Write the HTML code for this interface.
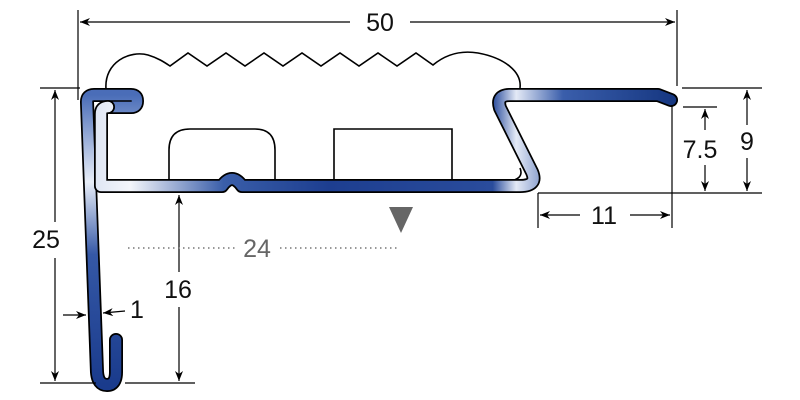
<!DOCTYPE html>
<html><head><meta charset="utf-8"><style>html,body{margin:0;padding:0;background:#fff}svg{display:block}</style></head>
<body>
<svg width="800" height="400" viewBox="0 0 800 400" xmlns="http://www.w3.org/2000/svg">
<defs>
<linearGradient id="g" gradientUnits="userSpaceOnUse" x1="95" y1="0" x2="680" y2="0">
<stop offset="0" stop-color="#dfe6f4"/>
<stop offset="0.06" stop-color="#f4f6fb"/>
<stop offset="0.22" stop-color="#3a5ea9"/>
<stop offset="0.4" stop-color="#1d3e90"/>
<stop offset="0.68" stop-color="#2a4c9c"/>
<stop offset="0.72" stop-color="#e4eaf6"/>
<stop offset="0.8" stop-color="#3a5eab"/>
<stop offset="1" stop-color="#14357f"/>
</linearGradient>
<linearGradient id="gv" gradientUnits="userSpaceOnUse" x1="0" y1="95" x2="0" y2="385">
<stop offset="0" stop-color="#4a6db8"/>
<stop offset="0.3" stop-color="#e8eef8"/>
<stop offset="0.55" stop-color="#3558a6"/>
<stop offset="1" stop-color="#1a3b8c"/>
</linearGradient>
<marker id="a" markerWidth="10" markerHeight="8" refX="10" refY="4" orient="auto" markerUnits="userSpaceOnUse"><path d="M0,0 L10,4 L0,8 L3,4z" fill="#000"/></marker>
</defs>
<g fill="none" stroke="#000" stroke-width="1.6">
<path d="M106,89 C104,62 130,50 148,55 C158,58 164,62 170,66 L188,53 L207,66 L226,53 L245,66 L264,53 L283,66 L302,53 L321,66 L340,53 L359,66 L378,53 L397,66 L416,53 L433,65 C445,55 460,50 478,53 C505,58 522,72 520,88"/>
<path d="M169,182 L169,150 Q169,129 190,129 L255,129 Q275,129 275,150 L275,182"/>
<path d="M334,182 L334,129 L452,129 L452,182"/>
<path d="M505,182 Q525,180 520,168"/>
</g>
<g fill="none" stroke-linejoin="round" stroke-linecap="round">
<path d="M116,340 L116,372 Q116,385 107,385 Q98,385 97,372 L87,102 Q87,95 94,95 L131,95 Q137,95 137,101 Q137,107 131,107 L108,107" stroke="#000" stroke-width="14"/>
<path d="M116,340 L116,372 Q116,385 107,385 Q98,385 97,372 L87,102 Q87,95 94,95 L131,95 Q137,95 137,101 Q137,107 131,107 L108,107" stroke="url(#gv)" stroke-width="10.5"/>
<path d="M108,107 Q101,107 101,114 L101,186 L222,186 Q232,172 242,186 L520,186 Q538,186 532,172 L500,108 Q496,95 510,95 L658,95 L671,100" stroke="#000" stroke-width="14"/>
<path d="M108,107 Q101,107 101,114 L101,186 L222,186 Q232,172 242,186 L520,186 Q538,186 532,172 L500,108 Q496,95 510,95 L658,95 L671,100" stroke="url(#g)" stroke-width="10.5"/>
</g>
<g stroke="#000" stroke-width="1.2" fill="none">
<line x1="78" y1="10" x2="78" y2="100"/>
<line x1="677" y1="10" x2="677" y2="86"/>
<line x1="350" y1="22" x2="80" y2="22" marker-end="url(#a)"/>
<line x1="410" y1="22" x2="675" y2="22" marker-end="url(#a)"/>
<line x1="40" y1="88" x2="80" y2="88"/>
<line x1="40" y1="383" x2="96" y2="383"/>
<line x1="125" y1="383" x2="195" y2="383"/>
<line x1="55" y1="222" x2="55" y2="90" marker-end="url(#a)"/>
<line x1="55" y1="258" x2="55" y2="381" marker-end="url(#a)"/>
<line x1="179" y1="272" x2="179" y2="195" marker-end="url(#a)"/>
<line x1="179" y1="307" x2="179" y2="381" marker-end="url(#a)"/>
<line x1="63" y1="315" x2="86" y2="315" marker-end="url(#a)"/>
<line x1="125" y1="311" x2="103" y2="313" marker-end="url(#a)"/>
<line x1="682" y1="88" x2="762" y2="88"/>
<line x1="538" y1="193" x2="762" y2="193"/>
<line x1="683" y1="107" x2="717" y2="107"/>
<line x1="672" y1="105" x2="672" y2="228"/>
<line x1="538" y1="193" x2="538" y2="228"/>
<line x1="705" y1="130" x2="705" y2="109" marker-end="url(#a)"/>
<line x1="705" y1="165" x2="705" y2="191" marker-end="url(#a)"/>
<line x1="747" y1="125" x2="747" y2="90" marker-end="url(#a)"/>
<line x1="747" y1="158" x2="747" y2="191" marker-end="url(#a)"/>
<line x1="580" y1="215" x2="540" y2="215" marker-end="url(#a)"/>
<line x1="630" y1="215" x2="670" y2="215" marker-end="url(#a)"/>
</g>
<g stroke="#777" stroke-width="1.6" stroke-dasharray="1.5 3.5">
<line x1="128" y1="248" x2="236" y2="248"/>
<line x1="280" y1="248" x2="400" y2="248"/>
</g>
<path d="M389,207 L413,207 L401,233z" fill="#666"/>
<g font-family="Liberation Sans Narrow, Liberation Sans, sans-serif" font-size="25" text-anchor="middle" fill="#111">
<text x="380" y="31">50</text>
<text x="46" y="248">25</text>
<text x="178" y="298">16</text>
<text x="137" y="318">1</text>
<text x="700" y="158">7.5</text>
<text x="747" y="150">9</text>
<text x="604" y="224">11</text>
<text x="257" y="257" fill="#666">24</text>
</g>
</svg>
</body></html>
